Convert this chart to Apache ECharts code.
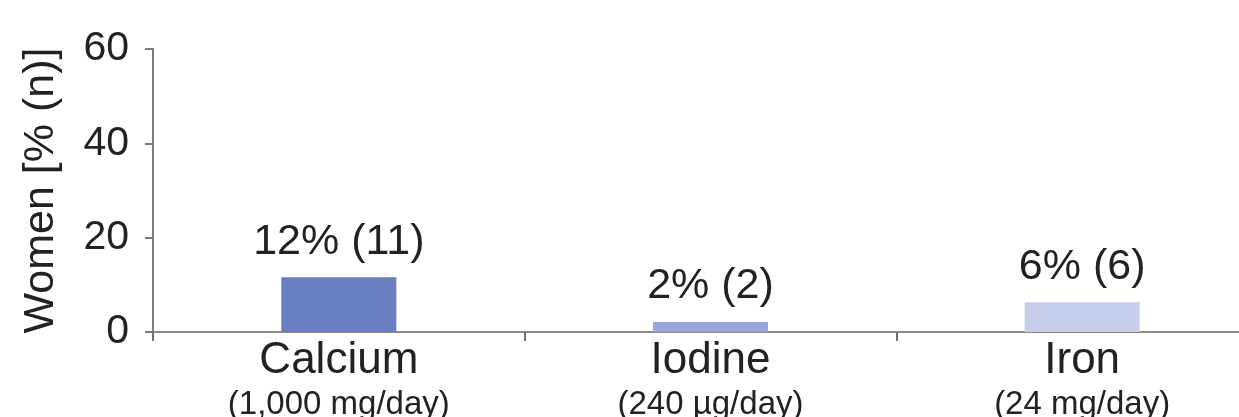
<!DOCTYPE html>
<html><head><meta charset="utf-8">
<script src="https://cdn.jsdelivr.net/npm/echarts@6/dist/echarts.min.js"></script>
<style>html,body{margin:0;padding:0;background:#fff}#c{width:1239px;height:417px}</style>
</head><body><div id="c"></div>
<script>
const categories = ['Calcium', 'Iodine', 'Iron'];
const subLabels = ['(1,000 mg/day)', '(240 µg/day)', '(24 mg/day)'];
const values = [11.6, 2.1, 6.3];
const valueLabels = ['12% (11)', '2% (2)', '6% (6)'];
const barColors = ['#6a7fc2', '#97a6db', '#c6cdea'];
const yTicks = [0, 20, 40, 60];

const chart = echarts.init(document.getElementById('c'));
const font = 'Liberation Sans, Arial, sans-serif';
chart.setOption({
  animation: false,
  grid: { left: 153, width: 1115, top: 49, bottom: 85, containLabel: false, outerBoundsMode: 'none' },
  xAxis: {
    type: 'category',
    data: categories,
    axisLine: { lineStyle: { color: '#8a8a8a', width: 2 } },
    axisTick: { show: true, length: 9, lineStyle: { color: '#707070', width: 2 } },
    axisLabel: {
      margin: 6,
      formatter: function (v, i) { return '{a|' + v + '}\n{b|' + subLabels[i] + '}'; },
      rich: {
        a: { fontSize: 44, fontFamily: font, color: '#222', lineHeight: 46 },
        b: { fontSize: 33, fontFamily: font, color: '#222', lineHeight: 42 }
      }
    }
  },
  yAxis: {
    type: 'value',
    min: yTicks[0], max: yTicks[yTicks.length - 1], interval: 20,
    name: 'Women [% (n)]',
    nameLocation: 'middle',
    nameGap: 90,
    nameTextStyle: { fontSize: 43, fontFamily: font, color: '#222' },
    axisLine: { show: true, lineStyle: { color: '#7a7a7a', width: 2 } },
    axisTick: { show: true, length: 8, lineStyle: { color: '#7a7a7a', width: 2 } },
    splitLine: { show: false },
    axisLabel: { fontSize: 41, fontFamily: font, color: '#222', margin: 24 }
  },
  series: [{
    type: 'bar',
    barWidth: 115,
    data: values.map((v, i) => ({ value: v, itemStyle: { color: barColors[i] } })),
    label: {
      show: true, position: 'top', distance: 14,
      formatter: p => valueLabels[p.dataIndex],
      fontSize: 43, fontFamily: font, color: '#222'
    }
  }]
});
</script></body></html>
